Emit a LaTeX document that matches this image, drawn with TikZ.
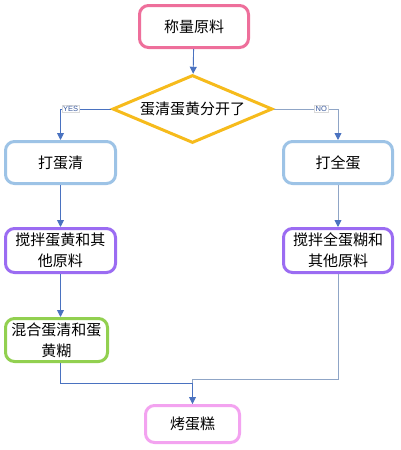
\documentclass[tikz,border=0pt]{standalone}
\usepackage{fontspec}
\newfontfamily\cjk{Noto Sans CJK SC}
\newfontfamily\lbl{Liberation Sans}
\usetikzlibrary{shapes.geometric,arrows.meta}
\definecolor{pinkline}{HTML}{EE6F9B}
\definecolor{goldline}{HTML}{F6BB1C}
\definecolor{skyline}{HTML}{9DC3E6}
\definecolor{violetline}{HTML}{9B6CF2}
\definecolor{greenline}{HTML}{92D050}
\definecolor{orchidline}{HTML}{F3A3F0}
\definecolor{flowblue}{HTML}{4A72C0}
\definecolor{flowgrey}{HTML}{8FA5C6}
\definecolor{tagblue}{HTML}{3A5A9E}

\begin{document}
\begin{tikzpicture}[x=1pt, y=-1pt,
    box/.style={rectangle, rounded corners=9pt, line width=3pt, fill=white,
        inner sep=0pt, font=\cjk\fontsize{15}{21}\selectfont, align=center},
    flow/.style={draw=flowblue, line width=0.9pt, -{Triangle[length=7pt,width=7pt]}},
    flowg/.style={draw=flowgrey, line width=0.9pt, -{Triangle[length=7pt,width=7pt,color=flowblue]}},
    tag/.style={draw=black!15, fill=white, inner sep=1pt, text=tagblue, font=\lbl\fontsize{7.5}{8}\selectfont}]
    \useasboundingbox (0,0) rectangle (400,450);
    \node[box, draw=pinkline, minimum width=109pt, minimum height=42pt] (weigh) at (194,26.5) {称量原料};
    \node[diamond, draw=goldline, line width=3pt, fill=white, inner sep=0pt, aspect=2.3,
        minimum width=160pt, minimum height=68pt, font=\cjk\fontsize{15}{21}\selectfont] (split) at (192.5,109) {蛋清蛋黄分开了};
    \node[box, draw=skyline, minimum width=110pt, minimum height=42pt] (whip) at (60.5,162.5) {打蛋清};
    \node[box, draw=skyline, minimum width=109pt, minimum height=42pt] (whole) at (338,162.5) {打全蛋};
    \node[box, draw=violetline, minimum width=110pt, minimum height=44pt] (mixl) at (60.5,250.5) {搅拌蛋黄和其\\他原料};
    \node[box, draw=violetline, minimum width=109pt, minimum height=44pt] (mixr) at (338,250.5) {搅拌全蛋糊和\\其他原料};
    \node[box, draw=greenline, minimum width=102pt, minimum height=43pt] (blend) at (56.5,340) {混合蛋清和蛋\\黄糊};
    \node[box, draw=orchidline, minimum width=94pt, minimum height=37pt] (bake) at (192.5,424) {烤蛋糕};

    \draw[flow] (weigh) -- (split);
    \draw[flow] (split.west) -| node[tag, pos=0.4] {YES} (whip.north);
    \draw[flowg] (split.east) -| node[tag, pos=0.37] {NO} (whole.north);
    \draw[flow] (whip) -- (mixl);
    \draw[flowg] (whole) -- (mixr);
    \draw[flow] (mixl.south) -- (mixl.south |- blend.north);
    \draw[draw=flowgrey, line width=0.9pt] (mixr.south) -- ++(0,105) -| (bake.north);
    \draw[flow] (whip.south |- blend.south) -- ++(0,20) -| (bake.north);
\end{tikzpicture}
\end{document}
